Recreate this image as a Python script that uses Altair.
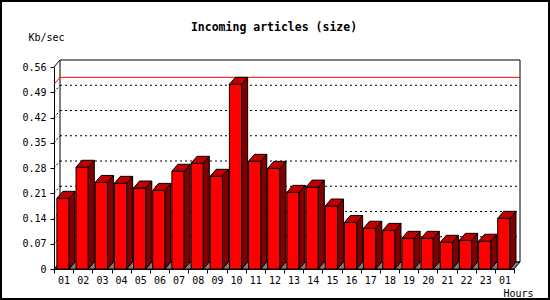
import altair as alt
import pandas as pd

# ---- data ----
hours = ["01", "02", "03", "04", "05", "06", "07", "08", "09", "10", "11", "12",
         "13", "14", "15", "16", "17", "18", "19", "20", "21", "22", "23", "01"]
values = [0.196, 0.282, 0.240, 0.2375, 0.2245, 0.218, 0.271, 0.293, 0.257, 0.512,
          0.2985, 0.279, 0.2125, 0.227, 0.1746, 0.129, 0.113, 0.107, 0.085, 0.085,
          0.074, 0.0795, 0.077, 0.1405]
y_ticks = [0, 0.07, 0.14, 0.21, 0.28, 0.35, 0.42, 0.49, 0.56]
title_text = "Incoming articles (size)"
y_title = "Kb/sec"
x_title = "Hours"

# ---- geometry / style ----
W, H = 460, 202
N = len(hours)
YMAX = y_ticks[-1]
DX_PX, DY_PX = 6, 7
dx = DX_PX * N / W          # depth in x data units
dy = DY_PX * YMAX / H       # depth in y data units
FL, FR = 0.15, 0.79         # front face extent within slot
FONT = "DejaVu Sans Mono"

front = pd.DataFrame({
    "xa": [i + FL for i in range(N)],
    "xb": [i + FR for i in range(N)],
    "ya": [0.0] * N,
    "yb": values,
})

# closed polygons for side and top faces (derived from the values)
side_rows, top_rows = [], []
for i, v in enumerate(values):
    xr = i + FR
    xl = i + FL
    pts = [(xr, 0.0), (xr + dx, dy), (xr + dx, v + dy), (xr, v), (xr, 0.0)]
    for k, (px, py) in enumerate(pts):
        side_rows.append({"bar": i, "px": px, "py": py, "o": k})
    pts = [(xl, v), (xr, v), (xr + dx, v + dy), (xl + dx, v + dy), (xl, v)]
    for k, (px, py) in enumerate(pts):
        top_rows.append({"bar": i, "px": px, "py": py, "o": k})
side = pd.DataFrame(side_rows)
top = pd.DataFrame(top_rows)

floor_pts = [(0.0, 0.0), (N, 0.0), (N + dx, dy), (dx, dy), (0.0, 0.0)]
floor_df = pd.DataFrame({"px": [p[0] for p in floor_pts], "py": [p[1] for p in floor_pts],
                         "o": list(range(len(floor_pts))), "bar": [0] * len(floor_pts)})

xs = alt.Scale(domain=[0, N], nice=False, zero=False)
ys = alt.Scale(domain=[0, YMAX], nice=False, zero=False)

label_arr = "[" + ",".join("'%s'" % h for h in hours) + "]"

x_axis = alt.Axis(values=list(range(N + 1)),
                  labelExpr="datum.value < %d ? %s[datum.value] : ''" % (N, label_arr),
                  labelOffset=W / N / 2, labelFlush=False, labelOverlap=False,
                  labelFont=FONT, labelFontSize=10, labelColor="black", labelPadding=2,
                  tickSize=4, tickColor="black", domainColor="black", grid=False,
                  title=x_title, titleFont=FONT, titleFontSize=10, titleFontWeight="normal",
                  titleColor="black", titleX=449, titleY=24, titleAlign="left",
                  titleBaseline="middle", titleAnchor="start")
y_axis = alt.Axis(values=y_ticks,
                  labelExpr="datum.value == 0 ? '0' : format(datum.value, '.2f')",
                  labelFlush=False, labelOverlap=False,
                  labelFont=FONT, labelFontSize=10, labelColor="black", labelPadding=4,
                  tickSize=4, tickColor="black", domainColor="black", grid=False,
                  title=y_title, titleFont=FONT, titleFontSize=10, titleFontWeight="normal",
                  titleColor="black", titleAngle=0, titleX=-26, titleY=-30,
                  titleAlign="left", titleBaseline="middle", titleAnchor="start")


def X(field):
    return alt.X(field, type="quantitative", scale=xs, axis=x_axis)


def Y(field):
    return alt.Y(field, type="quantitative", scale=ys, axis=y_axis)


one = pd.DataFrame({"k": [0]})

# back wall
wall = alt.Chart(pd.DataFrame({"xa": [dx], "xb": [N + dx], "ya": [dy], "yb": [YMAX + dy]})).mark_rect(
    fill="white", stroke="black", strokeWidth=1).encode(
    x=X("xa"), x2="xb", y=Y("ya"), y2="yb")

grid_levels = y_ticks[1:-1]
grid_df = pd.DataFrame({"x0": [0.0] * len(grid_levels), "x1": [dx] * len(grid_levels),
                        "x2": [N + dx] * len(grid_levels),
                        "y0": grid_levels, "y1": [g + dy for g in grid_levels]})
grid = alt.Chart(grid_df).mark_rule(color="black", strokeDash=[2, 3], strokeWidth=1).encode(
    x=X("x1"), x2="x2", y=Y("y1"))
grid_diag = alt.Chart(grid_df).mark_rule(color="black", strokeDash=[2, 2], strokeWidth=1).encode(
    x=X("x0"), x2="x1", y=Y("y0"), y2="y1")

vmax = max(values)
max_df = pd.DataFrame({"x0": [0.0], "x1": [dx], "x2": [N + dx], "y0": [vmax], "y1": [vmax + dy]})
max_line = alt.Chart(max_df).mark_rule(color="#ff0000", strokeWidth=1).encode(
    x=X("x1"), x2="x2", y=Y("y1"))
max_diag = alt.Chart(max_df).mark_rule(color="#ff0000", strokeWidth=1).encode(
    x=X("x0"), x2="x1", y=Y("y0"), y2="y1")

top_df = pd.DataFrame({"x0": [0.0], "x1": [dx], "y0": [YMAX], "y1": [YMAX + dy]})
top_diag = alt.Chart(top_df).mark_rule(color="black", strokeWidth=1).encode(
    x=X("x0"), x2="x1", y=Y("y0"), y2="y1")

floor = alt.Chart(floor_df).mark_line(fill="#808080", stroke="black", strokeWidth=1,
                                      interpolate="linear").encode(
    x=X("px"), y=Y("py"), detail="bar:N", order="o:Q")

bars_front = alt.Chart(front).mark_rect(fill="#ff0000", stroke="black", strokeWidth=1).encode(
    x=X("xa"), x2="xb", y=Y("ya"), y2="yb")

bars_side = alt.Chart(side).mark_line(fill="#800000", stroke="black", strokeWidth=1,
                                      interpolate="linear").encode(
    x=X("px"), y=Y("py"), detail="bar:N", order="o:Q")

bars_top = alt.Chart(top).mark_line(fill="#c00000", stroke="black", strokeWidth=1,
                                    interpolate="linear").encode(
    x=X("px"), y=Y("py"), detail="bar:N", order="o:Q")

title = alt.Chart(pd.DataFrame({"t": [title_text]})).mark_text(
    font=FONT, fontSize=11.5, fontWeight="bold", color="black",
    align="center", baseline="alphabetic").encode(
    text="t:N", x=alt.value(274 - 54), y=alt.value(31 - 67))

border = alt.Chart(one).mark_rect(fillOpacity=0, stroke="black", strokeWidth=2).encode(
    x=alt.value(-53), x2=alt.value(495), y=alt.value(-66), y2=alt.value(232))

chart = alt.layer(
    wall, grid, grid_diag, max_line, max_diag, top_diag, floor,
    bars_front, bars_side, bars_top, title, border
).properties(
    width=W, height=H,
    padding={"left": 54, "top": 67, "right": 36, "bottom": 31},
    autosize=alt.AutoSizeParams(type="none"),
    background="white",
).configure_view(stroke=None)

chart.save("out.html", embed_options={"renderer": "svg", "actions": False})
